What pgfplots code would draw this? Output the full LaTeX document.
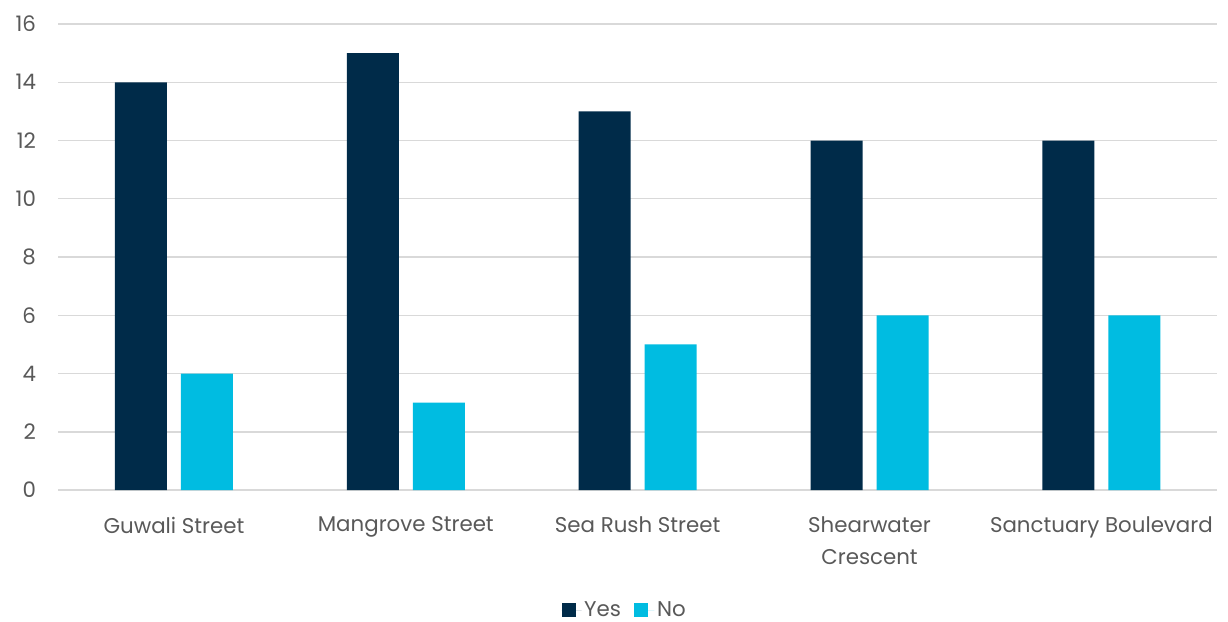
\documentclass[border=0pt]{standalone}
\usepackage{pgfplots}
\pgfplotsset{compat=1.18}
\usepackage{fontspec}
\setmainfont{Poppins}
\definecolor{navy}{HTML}{002B49}
\definecolor{cyanb}{HTML}{00BCE1}
\definecolor{gridc}{HTML}{D9D9D9}
\definecolor{txt}{HTML}{595959}
\begin{document}
\begin{tikzpicture}
\useasboundingbox (-43.5pt,-98.25pt) rectangle (877.25pt,367.5pt);
\begin{axis}[
  scale only axis,
  width=869.25pt, height=349.5pt,
  at={(0,0)}, anchor=south west,
  ymin=0, ymax=16, ytick={0,2,...,16},
  xmin=-0.5, xmax=4.5,
  xtick={0,1,2,3,4},
  xticklabels={Guwali Street, Mangrove Street, Sea Rush Street, {Shearwater\\Crescent}, Sanctuary Boulevard},
  xticklabel style={align=center, text=txt, font=\fontsize{16pt}{24pt}\selectfont},
  yticklabel style={text=txt, font=\fontsize{16pt}{20pt}\selectfont},
  /pgf/number format/assume math mode=true,
  ymajorgrids, grid style={gridc, line width=1pt},
  axis line style={draw=none},
  major tick length=0pt,
  xtick pos=bottom,
  ybar=10.5pt, bar width=39pt,
  tick align=outside,
  extra y ticks={0}, extra y tick labels={},
  extra y tick style={grid style={gridc, line width=1.3pt}},
  xticklabel shift=16.5pt,
  yticklabel shift=13pt,
  legend style={at={(0.489,-0.2575)}, anchor=center, draw=none, legend columns=-1,
    inner sep=0pt, nodes={inner ysep=1pt},
    font=\fontsize{16pt}{20pt}\selectfont, text=txt,
    /tikz/every even column/.append style={column sep=8pt}},
  legend image code/.code={\path (0pt,0pt) -- (15pt,0pt); \fill[#1] (0pt,-5.25pt) rectangle (10.5pt,5.25pt);},
]
\addplot[fill=navy, draw=none] coordinates {(0,14) (1,15) (2,13) (3,12) (4,12)};
\addplot[fill=cyanb, draw=none] coordinates {(0,4) (1,3) (2,5) (3,6) (4,6)};
\legend{Yes, No}
\end{axis}
\end{tikzpicture}
\end{document}
